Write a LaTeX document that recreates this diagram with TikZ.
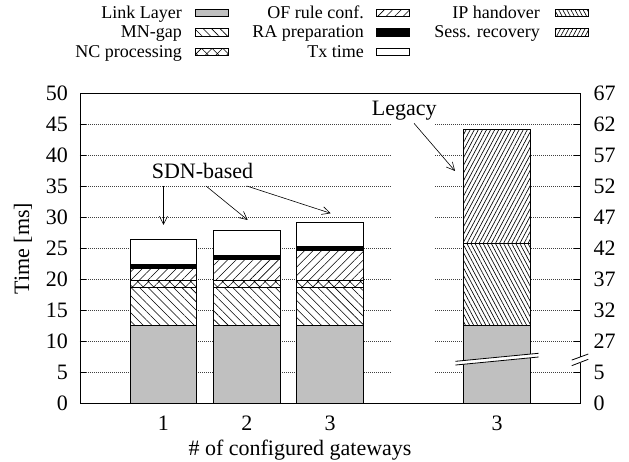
\documentclass[tikz,border=0pt]{standalone}
\usepackage{fontspec}
\setmainfont{Liberation Serif}
\usetikzlibrary{patterns.meta,arrows.meta}
\definecolor{llgray}{RGB}{192,192,192}
\tikzset{
  seg/.style={draw=black, line width=0.7pt},
  ll/.style={seg, fill=llgray},
  mn/.style={seg, preaction={fill=white}, pattern={Lines[angle=-45,distance=6pt,line width=0.55pt]}},
  nc/.style={seg, preaction={fill=white}, pattern={Hatch[angle=45,distance=7.5pt,line width=0.55pt]}},
  of/.style={seg, preaction={fill=white}, pattern={Lines[angle=45,distance=6pt,line width=0.55pt]}},
  ra/.style={seg, fill=black},
  tx/.style={seg, fill=white},
  ip/.style={seg, preaction={fill=white}, pattern={Lines[angle=-62,distance=3.6pt,line width=0.65pt]}},
  sr/.style={seg, preaction={fill=white}, pattern={Lines[angle=62,distance=3.6pt,line width=0.65pt]}},
  gridline/.style={black!75, line width=0.5pt, dash pattern=on 0.6pt off 1.4pt},
  frame/.style={black, line width=0.8pt},
  lab/.style={inner sep=0pt},
  legtext/.style={inner sep=0pt, anchor=base east, font=\fontsize{18}{22}\selectfont},
  pointer/.style={line width=0.6pt, -{Straight Barb[length=8pt,width=8pt]}},
}
\newcommand\barseg[4]{\path[#4] (#1-0.4,#2) rectangle (#1+0.4,#3);}
\begin{document}
\begin{tikzpicture}[x=83.4pt,y=6.2pt,font=\fontsize{22}{26}\selectfont]
\useasboundingbox (-80pt,-58.5pt) rectangle (549pt,403.5pt);
% grid
\foreach \v in {5,10,...,45}{
  \draw[gridline] (0,\v) -- (3.74,\v);
  \draw[gridline] (4.26,\v) -- (6,\v);
}
% SDN-based bars
\foreach \b/\of/\ra/\tx in {1/21.8/22.4/26.4, 2/23.25/23.95/27.9, 3/24.65/25.3/29.2}{
  \barseg{\b}{0}{12.66}{ll}
  \barseg{\b}{12.66}{18.7}{mn}
  \barseg{\b}{18.7}{19.9}{nc}
  \barseg{\b}{19.9}{\of}{of}
  \barseg{\b}{\of}{\ra}{ra}
  \barseg{\b}{\ra}{\tx}{tx}
}
% Legacy bar
\barseg{5}{0}{12.66}{ll}
\barseg{5}{12.66}{25.84}{ip}
\barseg{5}{25.84}{44.2}{sr}
% break on the bar
\fill[white] (4.5,6.2) -- (5.5,7.5) -- (5.5,8.1) -- (4.5,6.8) -- cycle;
\draw[frame] (4.5,6.2) -- (5.5,7.5);
\draw[frame] (4.5,6.8) -- (5.5,8.1);
% frame
\draw[frame] (6,6.55) -- (6,0) -- (0,0) -- (0,50) -- (6,50) -- (6,7.55);
\draw[frame] (5.896,6.1) -- (6.095,7.13);
\draw[frame] (5.896,7.0) -- (6.095,7.98);
% ticks
\foreach \v in {5,10,...,45}{
  \draw[frame] (0,\v) -- ++(6pt,0);
  \draw[frame] (6,\v) -- ++(-6pt,0);
}
% tick labels
\foreach \v in {0,5,...,50}{
  \node[lab, anchor=east] (yl\v) at ([xshift=-12pt]0,\v) {\v};
}
\foreach \v/\t in {0/0,5/5,10/27,15/32,20/37,25/42,30/47,35/52,40/57,45/62,50/67}{
  \node[lab, anchor=west] (yr\v) at ([xshift=13pt]6,\v) {\t};
}
\node[lab] (x1) at ([yshift=-19.5pt]1,0) {1};
\node[lab] (x2) at ([yshift=-19.5pt]2,0) {2};
\node[lab] (x3) at ([yshift=-19.5pt]3,0) {3};
\node[lab] (x5) at ([yshift=-19.5pt]5,0) {3};
\node[lab, anchor=base] (xlabel) at (220pt,-52.5pt) {\# of configured gateways};
\node[lab, rotate=90] (ylabel) at (-57pt,155pt) {Time [ms]};
% annotations
\node[lab, anchor=base] (sdn) at (122.5pt,225.2pt) {SDN-based};
\node[lab, anchor=base] (legacy) at (324.2pt,287.5pt) {Legacy};
\coordinate (s1) at (83.5pt,217.5pt);
\coordinate (e1) at (83.5pt,178.5pt);
\coordinate (s2) at (126pt,217.5pt);
\coordinate (e2) at (167.7pt,183.5pt);
\coordinate (s3) at (166.7pt,217.5pt);
\coordinate (e3) at (250.7pt,190.2pt);
\coordinate (s4) at (334pt,280.2pt);
\coordinate (e4) at (375pt,232.5pt);
\draw[pointer] (s1) -- (e1);
\draw[pointer] (s2) -- (e2);
\draw[pointer] (s3) -- (e3);
\draw[pointer] (s4) -- (e4);
% legend
\node[legtext] (l1) at (102pt,385pt) {Link Layer};
\node[legtext] (l2) at (102pt,365.5pt) {MN-gap};
\node[legtext] (l3) at (102pt,346pt) {NC processing};
\node[legtext] (l4) at (284pt,385pt) {OF rule conf.};
\node[legtext] (l5) at (284pt,365.5pt) {RA preparation};
\node[legtext] (l6) at (284pt,346pt) {Tx time};
\node[legtext] (l7) at (460pt,385pt) {IP handover};
\node[legtext] (l8) at (460pt,365.5pt) {Sess. recovery};
\path[ll] (115pt,386.7pt) rectangle (148pt,394.3pt);
\path[mn] (115pt,367.2pt) rectangle (148pt,374.8pt);
\path[nc] (115pt,347.7pt) rectangle (148pt,355.3pt);
\path[of] (296pt,386.7pt) rectangle (329pt,394.3pt);
\path[ra] (296pt,367.2pt) rectangle (329pt,374.8pt);
\path[tx] (296pt,347.7pt) rectangle (329pt,355.3pt);
\path[ip] (475pt,386.7pt) rectangle (508pt,394.3pt);
\path[sr] (475pt,367.2pt) rectangle (508pt,374.8pt);
\end{tikzpicture}
\end{document}
